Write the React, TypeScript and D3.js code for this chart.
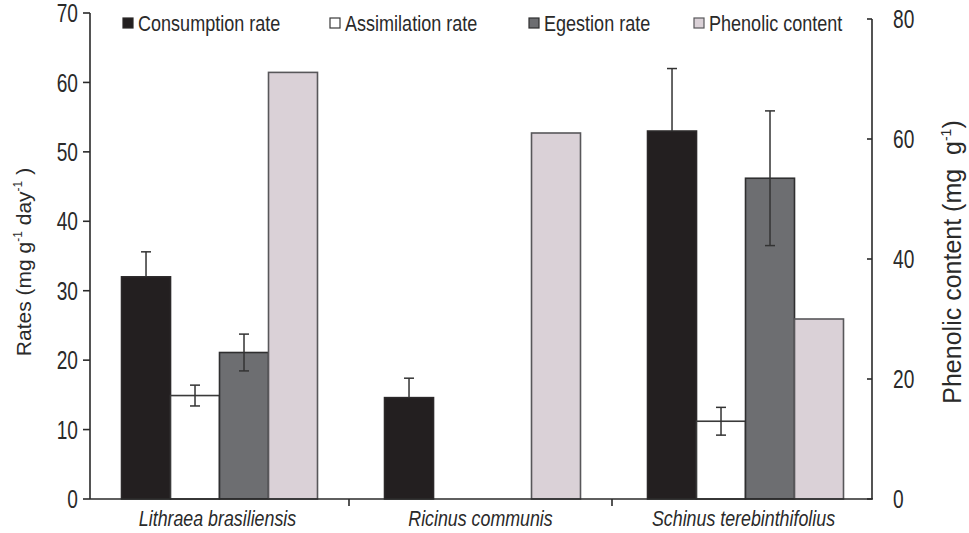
import { scaleBand, scaleLinear } from "d3";
import type { ReactNode } from "react";

const WIDTH = 969;
const HEIGHT = 533;
const PLOT = { left: 90, right: 872, top: 13, bottom: 499 };

const categories = ["Lithraea brasiliensis", "Ricinus communis", "Schinus terebinthifolius"];
const seriesNames = ["Consumption rate", "Assimilation rate", "Egestion rate", "Phenolic content"];

// rates, mg g-1 day-1 (null = not measured)
const consumption = [32.0, 14.6, 53.0];
const consumptionErr = [3.6, 2.8, 9.0];
const assimilation = [14.9, null, 11.2];
const assimilationErr = [1.5, null, 2.0];
const egestion = [21.1, null, 46.2];
const egestionErr = [2.65, null, 9.7];
// phenolic content, mg g-1 (right axis)
const phenolic = [71.1, 61.0, 30.0];

const leftTicks = [0, 10, 20, 30, 40, 50, 60, 70];
const rightTicks = [0, 20, 40, 60, 80];

const FILL = ["#231f20", "#ffffff", "#6d6e71", "#dad1d7"];
const STROKE = ["#2b2829", "#3a3a3a", "#2f2f30", "#58575a"];
const FONT = "Liberation Sans, Arimo, Arial, sans-serif";
const INK = "#2a2a2a";

const LEGEND_X = [123, 330, 529, 694];

// condensed text: Liberation Sans squeezed horizontally
function Narrow({
  x,
  y,
  sx = 0.82,
  anchor = "start",
  size = 24,
  italic = false,
  children
}: {
  x: number;
  y: number;
  sx?: number;
  anchor?: string;
  size?: number;
  italic?: boolean;
  children: ReactNode;
}) {
  return (
    <g transform={`translate(${x},${y}) scale(${sx},1)`}>
      <text
        textAnchor={anchor}
        dy="0.36em"
        fontFamily={FONT}
        fontSize={size}
        fontStyle={italic ? "italic" : "normal"}
        fill={INK}
      >
        {children}
      </text>
    </g>
  );
}

export default function App() {
  const x0 = scaleBand<string>().domain(categories).range([86, 875]);
  const x1 = scaleBand<string>()
    .domain(seriesNames)
    .range([0, x0.bandwidth()])
    .paddingInner(0)
    .paddingOuter(0.684)
    .align(0.53);
  const yLeft = scaleLinear().domain([0, 70]).range([PLOT.bottom, PLOT.top]);
  const yRight = scaleLinear().domain([0, 80]).range([PLOT.bottom, 19]);

  const table = [consumption, assimilation, egestion, phenolic];
  const errs = [consumptionErr, assimilationErr, egestionErr, null];

  const bars: JSX.Element[] = [];
  const errorBars: JSX.Element[] = [];
  categories.forEach((cat, ci) => {
    seriesNames.forEach((name, si) => {
      const v = table[si][ci];
      if (v == null) return;
      const scale = si === 3 ? yRight : yLeft;
      const x = (x0(cat) ?? 0) + (x1(name) ?? 0);
      const w = x1.bandwidth();
      bars.push(
        <rect
          key={`${ci}-${si}`}
          x={x}
          y={scale(v)}
          width={w}
          height={PLOT.bottom - scale(v)}
          fill={FILL[si]}
          stroke={STROKE[si]}
          strokeWidth={1.6}
        />
      );
      const e = errs[si]?.[ci];
      if (e != null) {
        const cx = x + w / 2;
        const hi = yLeft(v + e);
        const lo = yLeft(v - e);
        // the lower half disappears into the black consumption bars
        const showLow = si !== 0;
        errorBars.push(
          <g key={`e-${ci}-${si}`} stroke="#333" strokeWidth={1.5} fill="none">
            <line x1={cx} x2={cx} y1={hi} y2={showLow ? lo : yLeft(v)} />
            <line x1={cx - 5} x2={cx + 5} y1={hi} y2={hi} />
            {showLow && <line x1={cx - 5} x2={cx + 5} y1={lo} y2={lo} />}
          </g>
        );
      }
    });
  });

  return (
    <svg
      width={WIDTH}
      height={HEIGHT}
      viewBox={`0 0 ${WIDTH} ${HEIGHT}`}
      style={{ position: "absolute", left: 0, top: 0, background: "#fff" }}
    >
      <rect width={WIDTH} height={HEIGHT} fill="#fff" />
      {bars}
      {errorBars}

      {/* axes */}
      <g stroke={INK} strokeWidth={1.6}>
        <line x1={PLOT.left} x2={PLOT.left} y1={PLOT.top} y2={PLOT.bottom} />
        {leftTicks.map((t) => (
          <line key={t} x1={PLOT.left - 7} x2={PLOT.left} y1={yLeft(t)} y2={yLeft(t)} />
        ))}
        <line x1={PLOT.right} x2={PLOT.right} y1={yRight(80)} y2={PLOT.bottom} />
        {rightTicks.map((t) => (
          <line key={t} x1={PLOT.right - 5} x2={PLOT.right} y1={yRight(t)} y2={yRight(t)} />
        ))}
        <line x1={PLOT.left} x2={PLOT.right + 1} y1={PLOT.bottom} y2={PLOT.bottom} />
        {categories.slice(1).map((c) => (
          <line key={c} x1={x0(c)} x2={x0(c)} y1={PLOT.bottom} y2={PLOT.bottom + 7} />
        ))}
      </g>
      {leftTicks.map((t) => (
        <Narrow key={t} x={78} y={yLeft(t)} anchor="end" size={25.5} sx={0.75}>
          {t}
        </Narrow>
      ))}
      {rightTicks.map((t) => (
        <Narrow key={t} x={893} y={yRight(t)} size={25.5} sx={0.75}>
          {t}
        </Narrow>
      ))}
      {categories.map((c) => (
        <Narrow key={c} x={(x0(c) ?? 0) + x0.bandwidth() / 2} y={518} anchor="middle" size={22} sx={0.81} italic>
          {c}
        </Narrow>
      ))}

      {/* axis titles */}
      <text
        transform="translate(31,262) rotate(-90)"
        textAnchor="middle"
        fontFamily={FONT}
        fontSize={21}
        fill={INK}
      >
        Rates (mg g
        <tspan fontSize={12} dy={-9}>-1</tspan>
        <tspan dy={9}> day</tspan>
        <tspan fontSize={12} dy={-9}>-1</tspan>
        <tspan dy={9}> )</tspan>
      </text>
      <text
        transform="translate(961,262) rotate(-90)"
        textAnchor="middle"
        fontFamily={FONT}
        fontSize={25}
        fill={INK}
        xmlSpace="preserve"
      >
        {"Phenolic content (mg  g"}
        <tspan fontSize={14} dy={-10}>-1</tspan>
        <tspan dy={10}>)</tspan>
      </text>

      {/* legend */}
      {seriesNames.map((name, i) => (
        <g key={name}>
          <rect
            x={LEGEND_X[i]}
            y={18}
            width={10}
            height={10}
            fill={FILL[i]}
            stroke={STROKE[i]}
            strokeWidth={1.2}
          />
          <Narrow x={LEGEND_X[i] + 15} y={23} size={22} sx={0.82}>
            {name}
          </Narrow>
        </g>
      ))}
    </svg>
  );
}
